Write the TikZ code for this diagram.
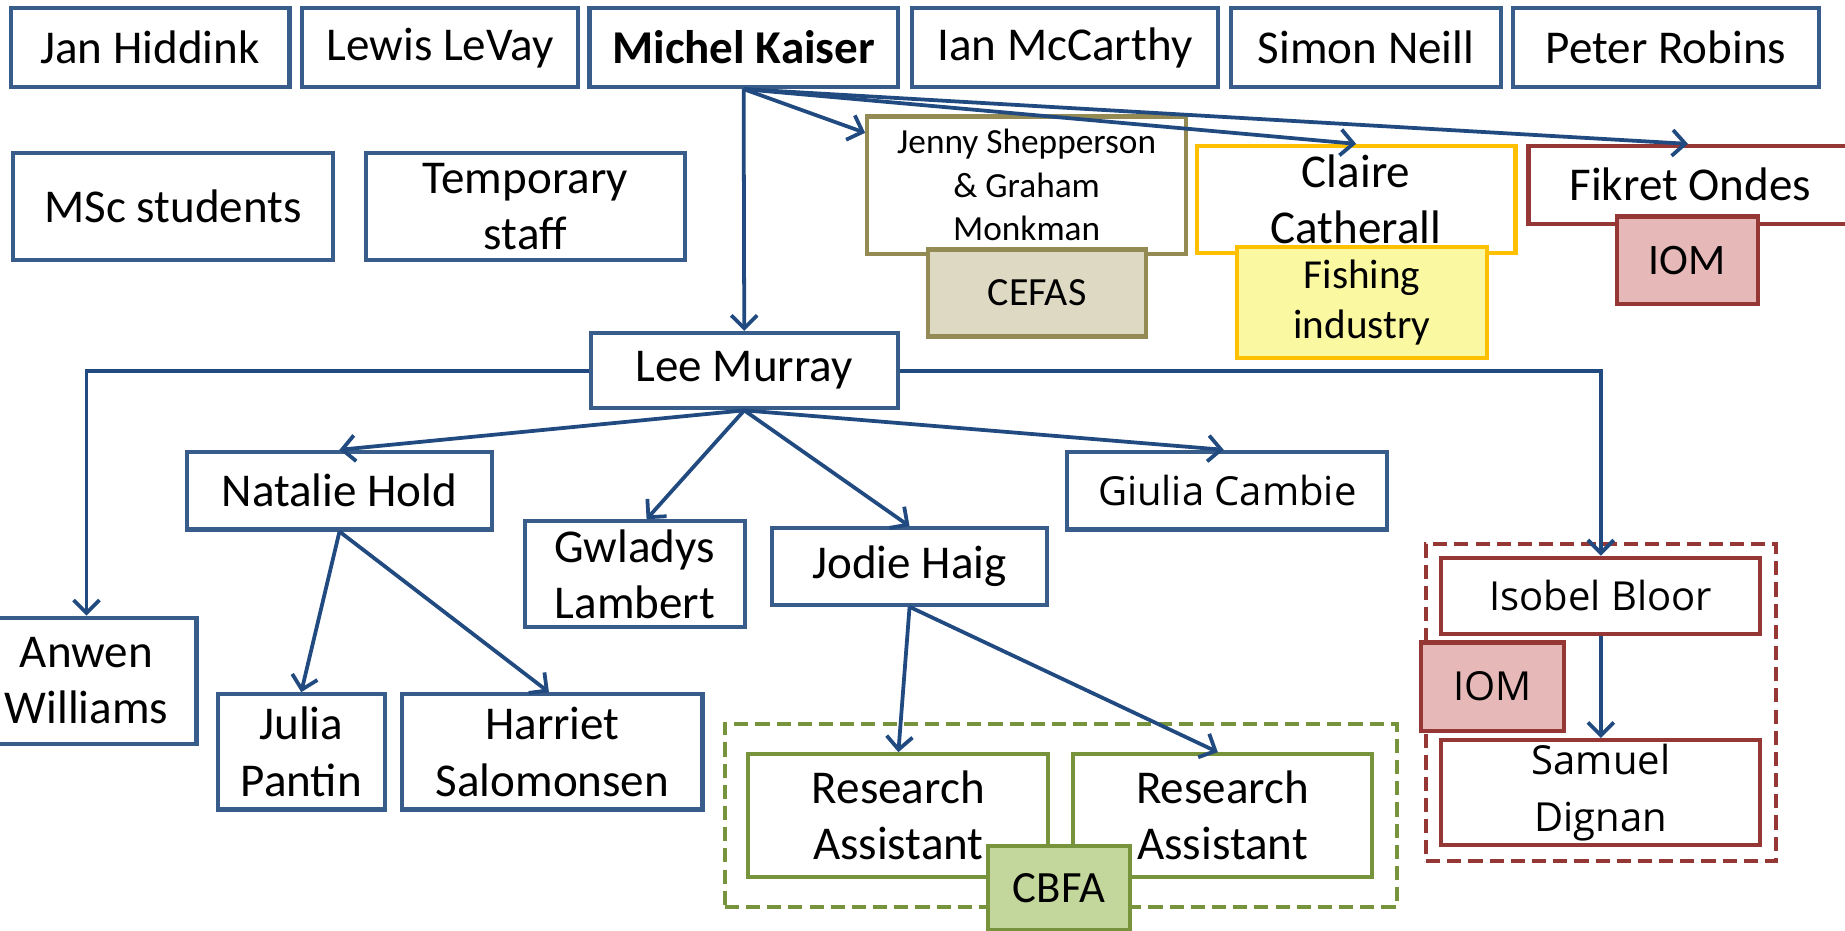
\documentclass[tikz,border=0pt]{standalone}
\usepackage{fontspec}
\setmainfont{Carlito}
\newfontfamily\osans{Open Sans}
\usetikzlibrary{arrows.meta}
\definecolor{bblue}{HTML}{385D8A}
\definecolor{ablue}{HTML}{214A80}
\definecolor{olive}{HTML}{948A54}
\definecolor{olivefill}{HTML}{DDD9C3}
\definecolor{gold}{HTML}{FFC000}
\definecolor{goldfill}{HTML}{FAF8A0}
\definecolor{dred}{HTML}{953735}
\definecolor{redfill}{HTML}{E6B9B8}
\definecolor{dgreen}{HTML}{77933C}
\definecolor{greenfill}{HTML}{C3D69B}
\newcommand\rbox[7]{%
  \pgfmathsetmacro\rbcx{(#3+#4)/2}%
  \pgfmathsetmacro\rbcy{(#5+#6)/2}%
  \pgfmathsetmacro\rbw{#4-#3}%
  \pgfmathsetmacro\rbh{#6-#5}%
  \node[#1,minimum width=\rbw pt,minimum height=\rbh pt] (#2) at (\rbcx,\rbcy) {#7};}
\tikzset{
  base/.style={rectangle,inner sep=0pt,line width=3.5pt,align=center,font=\fontsize{40}{48}\selectfont,text=black},
  bluebox/.style={base,draw=bblue,fill=white},
  olivebox/.style={base,draw=olive,fill=white},
  olivetag/.style={base,draw=olive,fill=olivefill,font=\fontsize{34}{40}\selectfont},
  goldbox/.style={base,draw=gold,fill=white},
  goldtag/.style={base,draw=gold,fill=goldfill,font=\fontsize{35}{42}\selectfont},
  redbox/.style={base,draw=dred,fill=white},
  redtag/.style={base,draw=dred,fill=redfill,font=\fontsize{37}{44}\selectfont},
  greenbox/.style={base,draw=dgreen,fill=white},
  greentag/.style={base,draw=dgreen,fill=greenfill,font=\fontsize{38}{44}\selectfont},
  osfont/.style={font=\osans\fontsize{34}{48}\selectfont},
  dashframe/.style={rectangle,inner sep=0pt,line width=3.5pt,dash pattern=on 12pt off 6pt},
  conn/.style={draw=ablue,line width=3.2pt,-{Straight Barb[length=11pt,width=22pt,line width=3.2pt]}},
}
\begin{document}
\begin{tikzpicture}[x=1pt,y=-1pt]
\fill[white] (0,0) rectangle (1568,791);
\useasboundingbox (0,0) rectangle (1568,791);
% top row
\rbox{bluebox}{jan}{9}{246}{7}{74}{Jan Hiddink}
\rbox{bluebox}{lewis}{257}{491}{7}{74}{Lewis LeVay}
\rbox{bluebox,font=\bfseries\fontsize{40}{48}\selectfont}{michel}{501}{763}{7}{74}{Michel Kaiser}
\rbox{bluebox}{ian}{775}{1035}{7}{74}{Ian McCarthy}
\rbox{bluebox}{simon}{1046}{1276}{7}{74}{Simon Neill}
\rbox{bluebox}{peter}{1286}{1546}{7}{74}{Peter Robins}
% second row
\rbox{bluebox}{msc}{11}{283}{130}{221}{MSc students}
\rbox{bluebox}{temp}{311}{582}{130}{221}{Temporary\\staff}
\rbox{olivebox,font=\fontsize{30}{37}\selectfont}{jenny}{737}{1008}{99}{216}{Jenny Shepperson\\\& Graham\\Monkman}
\rbox{olivetag}{cefas}{789}{974}{212}{286}{CEFAS}
\rbox{goldbox}{claire}{1017}{1288}{124}{215}{Claire\\Catherall}
\rbox{goldtag}{fishing}{1051}{1264}{210}{304}{Fishing\\industry}
\rbox{redbox}{fikret}{1299}{1574}{124}{190}{Fikret Ondes}
\rbox{redtag}{iomA}{1374}{1494}{184}{258}{IOM}
% Lee Murray and below
\rbox{bluebox}{lee}{502}{763}{283}{347}{Lee Murray}
\rbox{bluebox}{natalie}{159}{418}{384}{450}{Natalie Hold}
\rbox{bluebox}{gwladys}{446}{633}{443}{533}{Gwladys\\Lambert}
\rbox{bluebox}{jodie}{656}{890}{449}{514}{Jodie Haig}
\rbox{bluebox,osfont}{giulia}{907}{1179}{384}{450}{Giulia Cambie}
\rbox{bluebox}{anwen}{-20}{167}{525}{632}{Anwen\\Williams}
\rbox{bluebox}{julia}{185}{327}{590}{688}{Julia\\Pantin}
\rbox{bluebox}{harriet}{342}{597}{590}{688}{Harriet\\Salomonsen}
% CBFA group
\rbox{dashframe,draw=dgreen}{cbfagroup}{616}{1187}{615}{771}{}
\rbox{greenbox}{raA}{636}{891}{641}{745}{Research\\Assistant}
\rbox{greenbox}{raB}{912}{1166}{641}{745}{Research\\Assistant}
\rbox{greentag}{cbfa}{840}{960}{719}{790}{CBFA}
% IOM group
\rbox{dashframe,draw=dred}{iomgroup}{1212}{1509}{462}{732}{}
\rbox{redbox,osfont}{isobel}{1225}{1496}{474}{539}{Isobel Bloor}
\rbox{redbox,osfont}{samuel}{1225}{1496}{629}{718}{Samuel\\Dignan}
\rbox{redtag,font=\osans\fontsize{34}{40}\selectfont}{iomB}{1208}{1329}{546}{621}{IOM}
% connectors
\draw[conn] (michel.south) -- (lee.north);
\draw[conn] (michel.south) -- (jenny.162);
\draw[conn] (michel.south) -- (claire.north);
\draw[conn] (michel.south) -- ([xshift=-2pt]fikret.north);
\draw[conn] (lee.south) -- (natalie.north);
\draw[conn] (lee.south) -- ([xshift=10pt]gwladys.north);
\draw[conn] (lee.south) -- (jodie.north);
\draw[conn] (lee.south) -- ([xshift=-3pt]giulia.north);
\draw[conn] (lee.west) -| (anwen.north);
\draw[conn] (lee.east) -| (isobel.north);
\draw[conn] (natalie.south) -- (julia.north);
\draw[conn] (natalie.south) -- ([xshift=-3pt]harriet.north);
\draw[conn] (jodie.south) -- (raA.north);
\draw[conn] (jodie.south) -- ([xshift=-4pt]raB.north);
\draw[conn] (isobel.south) -- (samuel.north);
\end{tikzpicture}
\end{document}
